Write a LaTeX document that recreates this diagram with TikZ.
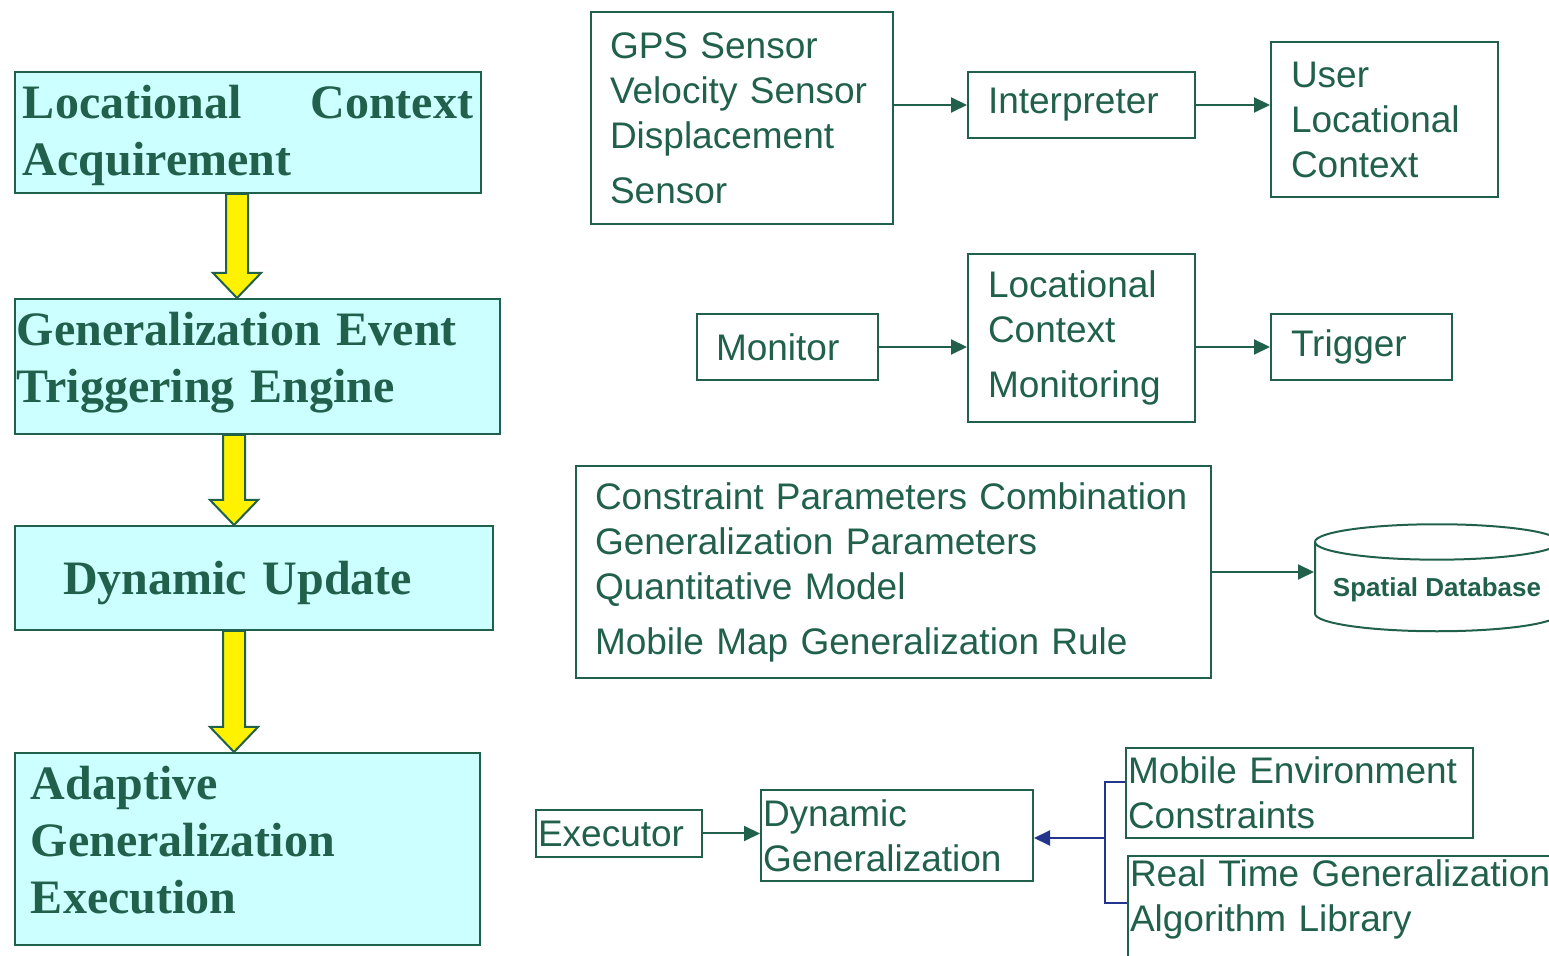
\documentclass[tikz,border=0pt]{standalone}
\usepackage{fontspec}
\setmainfont{Liberation Sans}
\newfontfamily\stagefont{Liberation Serif}
\usetikzlibrary{arrows.meta,shapes.geometric,calc}
\definecolor{pine}{HTML}{21614C}
\definecolor{linkblue}{HTML}{22348C}
\definecolor{paleaqua}{HTML}{CCFFFF}
% fat yellow arrow between two stages: #1 x position, #2 upper node, #3 lower node
\newcommand{\yarrow}[3]{%
  \coordinate (ya) at (#1,0);
  \filldraw[fat] ($(#2.south -| ya)+(-11,0)$) -- ($(#3.north -| ya)+(-11,-25)$)
    -- ($(#3.north -| ya)+(-24,-25)$) -- (#3.north -| ya) -- ($(#3.north -| ya)+(24,-25)$)
    -- ($(#3.north -| ya)+(11,-25)$) -- ($(#2.south -| ya)+(11,0)$) -- cycle;}
% invisible strut: height #1, depth #2
\newcommand{\pad}[2]{\rule[-#2]{0pt}{\dimexpr#1+#2\relax}}

\begin{document}
\begin{tikzpicture}[x=0.5pt, y=-0.5pt,
  stage/.style={draw=pine, line width=1pt, fill=paleaqua, anchor=north west, align=left, text=pine,
    font=\stagefont\bfseries\fontsize{24}{28.5}\selectfont, inner ysep=2pt},
  part/.style={draw=pine, line width=1pt, anchor=north west, align=left, text=pine,
    font=\fontsize{18.5}{22.5}\selectfont, inner ysep=2pt},
  arr/.style={-{Triangle[length=8pt, width=7.5pt]}, line width=1pt, pine},
  fat/.style={draw=pine, line width=1pt, fill=yellow, line join=miter}]
  \useasboundingbox (0,0) rectangle (1549,956);
  \clip (0,0) rectangle (1549,956);

  % left column: the four stages
  \node[stage, minimum width=233pt, minimum height=60.5pt, inner xsep=4pt, text width=225pt] (acq) at (14,71) {\pad{19.4pt}{0pt}Locational\hfill Context\\Acquirement};
  \node[stage, minimum width=242.5pt, minimum height=67.5pt, inner xsep=1pt, text width=240.5pt] (engine) at (14,298) {Generalization Event\\Triggering Engine\pad{0pt}{9.3pt}};
  \node[stage, minimum width=239pt, minimum height=52pt, inner xsep=24pt, text width=191pt] (upd) at (14,525) {\pad{21.4pt}{0pt}Dynamic Update};
  \node[stage, minimum width=232.5pt, minimum height=96pt, inner xsep=8pt, text width=216.5pt] (exe) at (14,752) {Adaptive\\Generalization\\Execution\pad{0pt}{9pt}};
  \yarrow{237}{acq}{engine}
  \yarrow{234}{engine}{upd}
  \yarrow{234}{upd}{exe}

  % right side: the parts of each stage
  \node[part, minimum width=151pt, minimum height=106pt, inner xsep=9.5pt, text width=132pt] (gps) at (590,11) {GPS Sensor\\Velocity Sensor\\Displacement\\[5pt]Sensor};
  \node[part, minimum width=113.5pt, minimum height=33pt, inner xsep=10pt, text width=93.5pt] (interp) at (967,71) {Interpreter};
  \node[part, minimum width=113.5pt, minimum height=77.5pt, inner xsep=10pt, text width=93.5pt] (user) at (1270,41) {User\\Locational\\Context};
  \node[part, minimum width=90.5pt, minimum height=33pt, inner xsep=9.5pt, text width=71.5pt] (mon) at (696,313) {Monitor};
  \node[part, minimum width=113.5pt, minimum height=84pt, inner xsep=10pt, text width=93.5pt] (watch) at (967,253) {Locational\\Context\\[5pt]Monitoring};
  \node[part, minimum width=90.5pt, minimum height=33pt, inner xsep=10pt, text width=70.5pt] (trigger) at (1270,313) {Trigger};
  \node[part, minimum width=317.5pt, minimum height=106pt, inner xsep=9.5pt, text width=298.5pt] (rules) at (575,465) {Constraint Parameters Combination\\Generalization Parameters\\Quantitative Model\\[5pt]Mobile Map Generalization Rule};
  \node[cylinder, shape border rotate=90, draw=pine, line width=1pt, aspect=0.16, minimum width=122pt, minimum height=53.5pt,
    text=pine, font=\bfseries\fontsize{13}{15}\selectfont] (db) at (1437,590) {Spatial Database};
  \node[part, minimum width=83pt, minimum height=23.5pt, inner xsep=1pt, text width=81pt] (executor) at (535,809) {Executor};
  \node[part, minimum width=136pt, minimum height=45.5pt, inner xsep=1pt, text width=134pt] (dyngen) at (760,789) {Dynamic\\Generalization};
  \node[part, minimum width=173.5pt, minimum height=45pt, inner xsep=1pt, text width=171.5pt] (envc) at (1125,747) {Mobile Environment\\Constraints};
  \node[part, minimum width=230pt, inner xsep=1pt, text width=228pt] (algo) at (1127,855) {Real Time Generalization\\Algorithm Library\pad{0pt}{40pt}};

  \draw[arr] (gps.east |- interp.west) -- (interp.west);
  \draw[arr] (interp.east) -- (interp.east -| user.west);
  \draw[arr] (mon.east) -- (mon.east -| watch.west);
  \draw[arr] (watch.east |- trigger.west) -- (trigger.west);
  \draw[arr] (rules.east) -- (rules.east -| db.west);
  \draw[arr] (executor.east) -- (executor.east -| dyngen.west);

  % bracket joining the two inputs of the dynamic generalization
  \coordinate (fork) at (1105,838);
  \coordinate (forktop) at (1105,782);
  \coordinate (forkbot) at (1105,903);
  \draw[linkblue, line width=0.8pt] (forktop -| envc.west) -- (forktop) -- (forkbot) -- (forkbot -| algo.west);
  \draw[linkblue, line width=1pt, -{Triangle[length=8pt, width=7.5pt]}] (fork) -- (fork -| dyngen.east);
\end{tikzpicture}
\end{document}
